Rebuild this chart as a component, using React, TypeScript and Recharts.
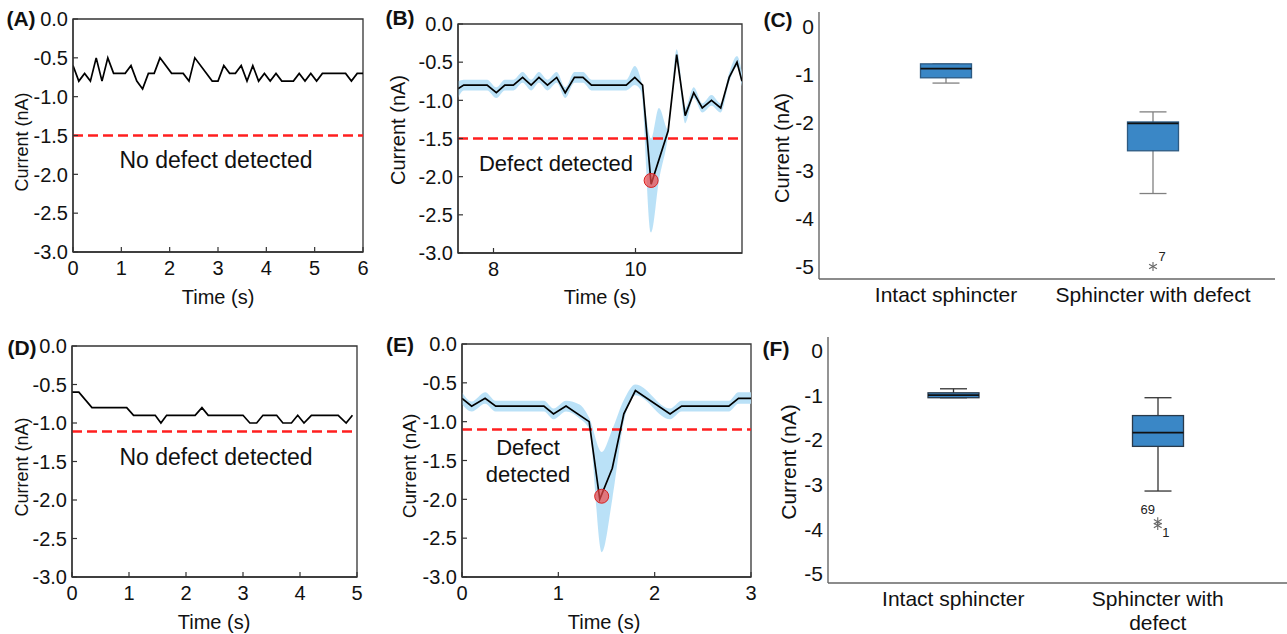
import React from "react";
import {
  Area,
  Bar,
  ComposedChart,
  Line,
  ReferenceArea,
  ReferenceDot,
  ReferenceLine,
  XAxis,
  YAxis,
} from "recharts";

// ---------- data ----------
const timeA = [0, 0.12, 0.24, 0.36, 0.48, 0.6, 0.72, 0.84, 1.08, 1.2, 1.32, 1.44, 1.56, 1.68, 1.8, 2.04, 2.28, 2.4, 2.52, 2.88, 3.0, 3.12, 3.24, 3.36, 3.48, 3.6, 3.72, 3.84, 3.96, 4.08, 4.2, 4.32, 4.56, 4.68, 4.8, 4.92, 5.04, 5.16, 5.64, 5.76, 5.88, 6.0];
const currentA = [-0.6, -0.8, -0.7, -0.8, -0.5, -0.8, -0.5, -0.7, -0.7, -0.6, -0.8, -0.9, -0.7, -0.7, -0.5, -0.7, -0.7, -0.8, -0.5, -0.8, -0.8, -0.6, -0.7, -0.7, -0.6, -0.8, -0.6, -0.8, -0.7, -0.8, -0.7, -0.8, -0.8, -0.7, -0.8, -0.7, -0.8, -0.7, -0.7, -0.8, -0.7, -0.7];

const timeB = [7.5, 7.58, 7.91, 8.04, 8.16, 8.28, 8.41, 8.53, 8.64, 8.76, 8.89, 9.01, 9.14, 9.26, 9.38, 9.87, 9.99, 10.1, 10.22, 10.46, 10.58, 10.7, 10.82, 10.94, 11.07, 11.2, 11.32, 11.43, 11.5];
const currentB = [-0.85, -0.8, -0.8, -0.9, -0.8, -0.8, -0.7, -0.8, -0.7, -0.8, -0.7, -0.9, -0.7, -0.7, -0.8, -0.8, -0.7, -0.8, -2.1, -1.4, -0.4, -1.2, -0.9, -1.1, -1.0, -1.1, -0.7, -0.5, -0.75];
const bandTimeB = [7.5, 7.58, 7.91, 8.04, 8.16, 8.28, 8.41, 8.53, 8.64, 8.76, 8.89, 9.01, 9.14, 9.26, 9.38, 9.87, 9.99, 10.08, 10.22, 10.33, 10.46, 10.58, 10.7, 10.82, 10.94, 11.07, 11.2, 11.32, 11.43, 11.5];
const bandLowB = [-0.97, -0.87, -0.87, -0.97, -0.87, -0.87, -0.77, -0.87, -0.77, -0.87, -0.77, -0.97, -0.77, -0.77, -0.87, -0.87, -0.8, -0.88, -2.73, -2.05, -1.46, -0.47, -1.3, -0.97, -1.16, -1.07, -1.16, -0.76, -0.56, -0.82];
const bandHighB = [-0.75, -0.73, -0.73, -0.83, -0.73, -0.73, -0.63, -0.73, -0.63, -0.73, -0.63, -0.83, -0.63, -0.63, -0.73, -0.73, -0.55, -0.74, -1.5, -1.1, -1.38, -0.33, -1.1, -0.83, -1.04, -0.93, -1.04, -0.64, -0.42, -0.64];
const peakB = { t: 10.22, current: -2.05 };

const timeD = [0, 0.12, 0.35, 0.96, 1.08, 1.46, 1.56, 1.66, 2.16, 2.28, 2.39, 3.0, 3.12, 3.24, 3.35, 3.59, 3.7, 3.85, 3.96, 4.07, 4.2, 4.67, 4.81, 4.92];
const currentD = [-0.6, -0.6, -0.8, -0.8, -0.9, -0.9, -1.0, -0.9, -0.9, -0.8, -0.9, -0.9, -1.0, -1.0, -0.9, -0.9, -1.0, -1.0, -0.9, -1.0, -0.9, -0.9, -1.0, -0.9];

const timeE = [0, 0.1, 0.24, 0.35, 0.85, 0.95, 1.08, 1.32, 1.43, 1.56, 1.68, 1.8, 2.16, 2.28, 2.77, 2.87, 3.0];
const currentE = [-0.7, -0.8, -0.7, -0.8, -0.8, -0.9, -0.8, -1.0, -2.0, -1.6, -0.9, -0.6, -0.9, -0.8, -0.8, -0.7, -0.7];
const bandTimeE = [0, 0.1, 0.24, 0.35, 0.85, 0.95, 1.08, 1.22, 1.32, 1.45, 1.56, 1.68, 1.8, 2.16, 2.28, 2.77, 2.87, 3.0];
const bandLowE = [-0.78, -0.87, -0.77, -0.87, -0.87, -0.97, -0.87, -0.96, -1.1, -2.68, -2.0, -1.0, -0.66, -0.97, -0.87, -0.87, -0.77, -0.77];
const bandHighE = [-0.62, -0.74, -0.62, -0.73, -0.73, -0.83, -0.73, -0.78, -0.95, -1.39, -1.1, -0.72, -0.52, -0.83, -0.73, -0.73, -0.62, -0.62];
const peakE = { t: 1.45, current: -1.96 };

const thresholds = { A: -1.5, B: -1.5, D: -1.11, E: -1.1 };

const lineYTicks = [0, -0.5, -1, -1.5, -2, -2.5, -3];
const boxYTicks = [0, -1, -2, -3, -4, -5];

const groupsC = ["Intact sphincter", "Sphincter with defect"];
const groupsF = ["Intact sphincter", "Sphincter with\ndefect"];
// whisker low, q1, median, q3, whisker high
const statsC = [
  [-1.18, -1.07, -0.88, -0.78, -0.78],
  [-3.48, -2.59, -2.02, -1.99, -1.78],
];
const statsF = [
  [-1.06, -1.06, -1.0, -0.95, -0.86],
  [-3.15, -2.15, -1.84, -1.46, -1.06],
];
const outliersC = [{ group: 1, current: -5.0, id: "7" }];
const outliersF = [
  { group: 1, current: -3.84, id: "69" },
  { group: 1, current: -3.92, id: "1" },
];

// ---------- styling ----------
const FONT = "Arial, 'Liberation Sans', Helvetica, sans-serif";
const FRAME = "#333";
const RED = "#ff1f1f";
const BAND = "#b3def6";
const BOX_FILL = "#3a87c6";
const idOffset: Record<string, [number, number]> = {
  "7": [9, -10],
  "69": [-10, -13],
  "1": [8, 7],
};

const zip = (t: number[], v: number[]) => t.map((x, i) => ({ t: x, current: v[i] }));
const zipBand = (t: number[], lo: number[], hi: number[]) =>
  t.map((x, i) => ({ t: x, band: [lo[i], hi[i]] }));
const toRows = (names: string[], stats: number[][]) =>
  names.map((name, i) => {
    const [lo, q1, med, q3, hi] = stats[i];
    return { name, lo, q1, med, q3, hi };
  });

function FrameTick(props: any) {
  const { x, y, payload, side, fontSize } = props;
  const v = payload.value;
  const s = { stroke: FRAME, strokeWidth: 1.2 };
  if (side === "bottom")
    return (
      <g>
        <line x1={x} y1={y} x2={x} y2={y - 5} {...s} />
        <text x={x} y={y + 9} dy="0.71em" textAnchor="middle" fontSize={fontSize} fill="#111">
          {v}
        </text>
      </g>
    );
  if (side === "left")
    return (
      <g>
        <line x1={x} y1={y} x2={x + 5} y2={y} {...s} />
        <text x={x - 5} y={y} dy="0.36em" textAnchor="end" fontSize={fontSize} fill="#111">
          {v.toFixed(1)}
        </text>
      </g>
    );
  if (side === "top") return <line x1={x} y1={y} x2={x} y2={y + 3} {...s} />;
  return <line x1={x} y1={y} x2={x - 3} y2={y} {...s} />;
}

type Box = { left: number; top: number; width: number; height: number };
type Plot = { x0: number; x1: number; y0: number; y1: number };

function LinePanel(p: {
  pos: Box;
  plot: Plot;
  xDomain: [number, number];
  xTicks: number[];
  line: { t: number; current: number }[];
  band?: { t: number; band: number[] }[];
  threshold: number;
  peak?: { t: number; current: number };
  tickSize: number;
}) {
  const { pos, plot } = p;
  const margin = { top: plot.y0 - pos.top, right: pos.left + pos.width - plot.x1, bottom: 0, left: 0 };
  const yw = plot.x0 - pos.left;
  const xh = pos.top + pos.height - plot.y1;
  const axisLine = { stroke: FRAME, strokeWidth: 1.3 };
  return (
    <div style={{ position: "absolute", left: pos.left, top: pos.top }}>
      <ComposedChart width={pos.width} height={pos.height} margin={margin} data={p.line}>
        <XAxis
          xAxisId="b"
          type="number"
          dataKey="t"
          domain={p.xDomain}
          ticks={p.xTicks}
          allowDataOverflow
          interval={0}
          height={xh}
          tickSize={0}
          tickMargin={0}
          tickLine={false}
          axisLine={axisLine}
          tick={<FrameTick side="bottom" fontSize={p.tickSize} />}
        />
        <XAxis
          xAxisId="t"
          orientation="top"
          type="number"
          dataKey="t"
          domain={p.xDomain}
          ticks={p.xTicks}
          allowDataOverflow
          interval={0}
          height={0}
          tickSize={0}
          tickMargin={0}
          tickLine={false}
          axisLine={axisLine}
          tick={<FrameTick side="top" />}
        />
        <YAxis
          yAxisId="l"
          type="number"
          domain={[-3, 0]}
          ticks={lineYTicks}
          allowDataOverflow
          interval={0}
          width={yw}
          tickSize={0}
          tickMargin={0}
          tickLine={false}
          axisLine={axisLine}
          tick={<FrameTick side="left" fontSize={p.tickSize} />}
        />
        <YAxis
          yAxisId="r"
          orientation="right"
          type="number"
          domain={[-3, 0]}
          ticks={lineYTicks}
          allowDataOverflow
          interval={0}
          width={0}
          tickSize={0}
          tickMargin={0}
          tickLine={false}
          axisLine={axisLine}
          tick={<FrameTick side="right" />}
        />
        {/* invisible copy so the top/right frame axes get a scale */}
        <Line
          xAxisId="t"
          yAxisId="r"
          dataKey="current"
          stroke="none"
          dot={false}
          activeDot={false}
          isAnimationActive={false}
        />
        <ReferenceArea
          xAxisId="b"
          yAxisId="l"
          x1={p.xDomain[0]}
          x2={p.xDomain[1]}
          y1={-3}
          y2={0}
          fill="none"
          stroke={FRAME}
          strokeWidth={1.3}
          ifOverflow="visible"
        />
        {p.band && (
          <Area
            xAxisId="b"
            yAxisId="l"
            data={p.band}
            dataKey="band"
            type="monotone"
            stroke="none"
            fill={BAND}
            fillOpacity={0.9}
            activeDot={false}
            isAnimationActive={false}
          />
        )}
        <ReferenceLine xAxisId="b" yAxisId="l" y={p.threshold} stroke={RED} strokeWidth={2.6} strokeDasharray="10 5" />
        <Line
          xAxisId="b"
          yAxisId="l"
          dataKey="current"
          type="linear"
          stroke="#000"
          strokeWidth={1.7}
          dot={false}
          activeDot={false}
          isAnimationActive={false}
        />
        {p.peak && (
          <ReferenceDot
            xAxisId="b"
            yAxisId="l"
            x={p.peak.t}
            y={p.peak.current}
            r={7}
            fill="#f04848"
            fillOpacity={0.7}
            stroke="#d62222"
            strokeWidth={1}
          />
        )}
      </ComposedChart>
    </div>
  );
}

function BoxShape(props: any) {
  const { x, y, width, height, payload, whisker, border } = props;
  const top = Math.min(y, y + height);
  const bot = Math.max(y, y + height);
  const { lo, q1, med, q3, hi } = payload;
  const py = (v: number) => top + ((hi - v) / (hi - lo)) * (bot - top);
  const cx = x + width / 2;
  const cap = 13.5;
  return (
    <g>
      <line x1={cx} y1={top} x2={cx} y2={bot} stroke={whisker} strokeWidth={1.3} />
      <line x1={cx - cap} y1={top} x2={cx + cap} y2={top} stroke={whisker} strokeWidth={1.3} />
      <line x1={cx - cap} y1={bot} x2={cx + cap} y2={bot} stroke={whisker} strokeWidth={1.3} />
      <rect x={x} y={py(q3)} width={width} height={py(q1) - py(q3)} fill={BOX_FILL} stroke={border} strokeWidth={1.3} />
      <line x1={x} y1={py(med)} x2={x + width} y2={py(med)} stroke="#111" strokeWidth={1.8} />
    </g>
  );
}

function Star(props: any) {
  const { cx, cy, id } = props;
  const r = 4.5;
  const [dx, dy] = idOffset[id] || [8, -8];
  const arms = [90, 30, 150].map((a) => {
    const rad = (a * Math.PI) / 180;
    return [Math.cos(rad) * r, Math.sin(rad) * r];
  });
  return (
    <g>
      {arms.map(([ax, ay], i) => (
        <line key={i} x1={cx - ax} y1={cy - ay} x2={cx + ax} y2={cy + ay} stroke="#666" strokeWidth={1.1} />
      ))}
      <text x={cx + dx} y={cy + dy} dy="0.36em" textAnchor="middle" fontSize={13} fill="#222">
        {id}
      </text>
    </g>
  );
}

function CatTick(props: any) {
  const { x, y, payload, fontSize, gap } = props;
  const lines = String(payload.value).split("\n");
  return (
    <g>
      {lines.map((l, i) => (
        <text key={i} x={x} y={y + gap + i * 24} dy="0.71em" textAnchor="middle" fontSize={fontSize} fill="#111">
          {l}
        </text>
      ))}
    </g>
  );
}

function BoxYTick(props: any) {
  const { x, y, payload, fontSize } = props;
  return (
    <text x={x - 5} y={y} dy="0.36em" textAnchor="end" fontSize={fontSize} fill="#111">
      {String(payload.value)}
    </text>
  );
}

function BoxPanel(p: {
  pos: Box;
  plot: Plot;
  groups: string[];
  stats: number[][];
  outliers: { group: number; current: number; id: string }[];
  yDomain: [number, number];
  padding: { left: number; right: number };
  whisker: string;
  border: string;
  fontSize: number;
}) {
  const { pos, plot } = p;
  const rows = toRows(p.groups, p.stats);
  const margin = { top: plot.y0 - pos.top, right: pos.left + pos.width - plot.x1, bottom: 0, left: 0 };
  const axisLine = { stroke: "#666", strokeWidth: 1.4 };
  return (
    <div style={{ position: "absolute", left: pos.left, top: pos.top }}>
      <ComposedChart width={pos.width} height={pos.height} margin={margin} data={rows}>
        <XAxis
          dataKey="name"
          type="category"
          padding={p.padding}
          interval={0}
          height={pos.top + pos.height - plot.y1}
          tickSize={0}
          tickMargin={0}
          tickLine={false}
          axisLine={axisLine}
          tick={<CatTick fontSize={p.fontSize} gap={8} />}
        />
        <YAxis
          type="number"
          domain={p.yDomain}
          ticks={boxYTicks}
          allowDataOverflow
          interval={0}
          width={plot.x0 - pos.left}
          tickSize={0}
          tickMargin={0}
          tickLine={false}
          axisLine={axisLine}
          tick={<BoxYTick fontSize={p.fontSize} />}
        />
        <Bar
          dataKey={(d: any) => [d.lo, d.hi]}
          barSize={51}
          isAnimationActive={false}
          shape={(s: any) => <BoxShape {...s} whisker={p.whisker} border={p.border} />}
        />
        {p.outliers.map((o) => (
          <ReferenceDot
            key={o.id}
            x={p.groups[o.group]}
            y={o.current}
            r={4}
            shape={(s: any) => <Star {...s} id={o.id} />}
          />
        ))}
      </ComposedChart>
    </div>
  );
}

function Note({ x, y, children, size = 22, bold = false, rotate = false }: any) {
  return (
    <div
      style={{
        position: "absolute",
        left: x,
        top: y,
        transform: `translate(-50%, -50%)${rotate ? " rotate(-90deg)" : ""}`,
        fontSize: size,
        fontWeight: bold ? 700 : 400,
        whiteSpace: "nowrap",
        textAlign: "center",
        lineHeight: "27px",
        color: "#111",
      }}
    >
      {children}
    </div>
  );
}

export default function App() {
  return (
    <div
      style={{
        position: "absolute",
        left: 0,
        top: 0,
        width: 1287,
        height: 634,
        background: "#fff",
        fontFamily: FONT,
        overflow: "hidden",
      }}
    >
      <LinePanel
        pos={{ left: 0, top: 0, width: 380, height: 310 }}
        plot={{ x0: 73, x1: 363, y0: 19, y1: 252 }}
        xDomain={[0, 6]}
        xTicks={[0, 1, 2, 3, 4, 5, 6]}
        line={zip(timeA, currentA)}
        threshold={thresholds.A}
        tickSize={20}
      />
      <LinePanel
        pos={{ left: 385, top: 0, width: 375, height: 310 }}
        plot={{ x0: 458, x1: 742, y0: 24, y1: 253 }}
        xDomain={[7.5, 11.5]}
        xTicks={[8, 10]}
        line={zip(timeB, currentB)}
        band={zipBand(bandTimeB, bandLowB, bandHighB)}
        threshold={thresholds.B}
        peak={peakB}
        tickSize={20}
      />
      <BoxPanel
        pos={{ left: 760, top: 0, width: 527, height: 310 }}
        plot={{ x0: 819, x1: 1275, y0: 12, y1: 279 }}
        groups={groupsC}
        stats={statsC}
        outliers={outliersC}
        yDomain={[-5.26, 0.3]}
        padding={{ left: 23.5, right: 18.5 }}
        whisker="#808080"
        border="#2d5a82"
        fontSize={21}
      />
      <LinePanel
        pos={{ left: 0, top: 320, width: 375, height: 314 }}
        plot={{ x0: 72, x1: 357, y0: 346, y1: 577 }}
        xDomain={[0, 5]}
        xTicks={[0, 1, 2, 3, 4, 5]}
        line={zip(timeD, currentD)}
        threshold={thresholds.D}
        tickSize={20}
      />
      <LinePanel
        pos={{ left: 385, top: 320, width: 385, height: 314 }}
        plot={{ x0: 462, x1: 751, y0: 344, y1: 577 }}
        xDomain={[0, 3]}
        xTicks={[0, 1, 2, 3]}
        line={zip(timeE, currentE)}
        band={zipBand(bandTimeE, bandLowE, bandHighE)}
        threshold={thresholds.E}
        peak={peakE}
        tickSize={20}
      />
      <BoxPanel
        pos={{ left: 760, top: 320, width: 527, height: 314 }}
        plot={{ x0: 828, x1: 1287, y0: 337, y1: 583 }}
        groups={groupsF}
        stats={statsF}
        outliers={outliersF}
        yDomain={[-5.21, 0.3]}
        padding={{ left: 23, right: 27 }}
        whisker="#333"
        border="#2a3a4a"
        fontSize={21}
      />

      {/* axis titles */}
      <Note x={218} y={297} size={20}>Time (s)</Note>
      <Note x={600} y={297} size={20}>Time (s)</Note>
      <Note x={214} y={622} size={20}>Time (s)</Note>
      <Note x={604} y={622} size={20}>Time (s)</Note>
      <Note x={22} y={142} size={18} rotate>Current (nA)</Note>
      <Note x={398} y={130} size={20} rotate>Current (nA)</Note>
      <Note x={782} y={148} size={20} rotate>Current (nA)</Note>
      <Note x={22} y={467} size={18} rotate>Current (nA)</Note>
      <Note x={409} y={466} size={19} rotate>Current (nA)</Note>
      <Note x={788} y={462} size={21} rotate>Current (nA)</Note>

      {/* annotations */}
      <Note x={216} y={160} size={23}>No defect detected</Note>
      <Note x={556} y={163}>Defect detected</Note>
      <Note x={216} y={457} size={23}>No defect detected</Note>
      <Note x={528} y={461}>
        Defect
        <br />
        detected
      </Note>

      <Note x={21} y={18} size={21} bold>(A)</Note>
      <Note x={400} y={17} size={21} bold>(B)</Note>
      <Note x={778} y={19} size={21} bold>(C)</Note>
      <Note x={22} y={347} size={21} bold>(D)</Note>
      <Note x={400} y={344} size={21} bold>(E)</Note>
      <Note x={776} y={348} size={21} bold>(F)</Note>
    </div>
  );
}
